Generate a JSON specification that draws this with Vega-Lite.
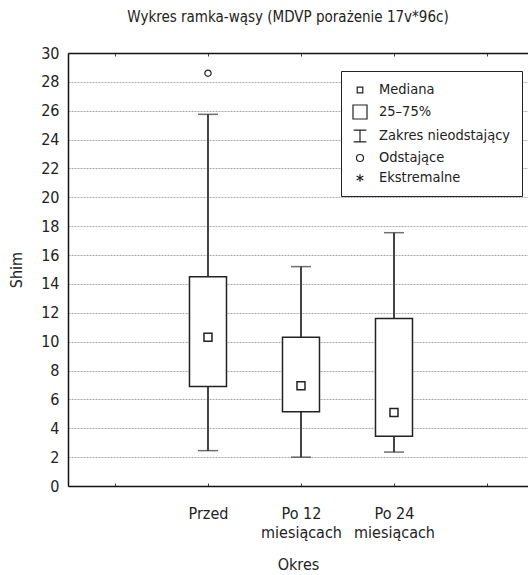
{
  "$schema": "https://vega.github.io/schema/vega-lite/v6.json",
  "width": 460,
  "height": 433,
  "autosize": {"type": "none"},
  "padding": {"left": 68, "top": 53, "right": 0, "bottom": 89},
  "config": {
    "font": "DejaVu Sans Condensed, Roboto, sans-serif",
    "view": {"stroke": null},
    "axis": {"labelFontSize": 16, "titleFontSize": 16, "titleFontWeight": "normal", "labelFontWeight": "normal", "labelColor": "#222", "titleColor": "#222", "domain": true, "domainColor": "#111", "domainWidth": 1.5, "tickColor": "#444", "grid": false, "labelOverlap": false},
    "axisY": {"grid": true, "gridDash": [2, 1], "gridColor": "#aaa", "ticks": false, "labelPadding": 9, "titlePadding": 16},
    "axisX": {"labelAngle": 0}
  },
  "title": {"text": "Wykres ramka-wąsy (MDVP porażenie 17v*96c)", "fontSize": 15, "fontWeight": "normal", "color": "#222", "dx": -10, "offset": 20},
  "datasets": {
    "boxes": [
      {"okres": "Przed", "min": 2.45, "q1": 6.9, "median": 10.3, "q3": 14.5, "max": 25.75},
      {"okres": "Po 12 miesiącach", "min": 2.0, "q1": 5.15, "median": 6.95, "q3": 10.3, "max": 15.2},
      {"okres": "Po 24 miesiącach", "min": 2.35, "q1": 3.45, "median": 5.1, "q3": 11.6, "max": 17.55}
    ],
    "outliers": [{"okres": "Przed", "value": 28.6}],
    "legendItems": [
      {"item": "Mediana"}, {"item": "25–75%"}, {"item": "Zakres nieodstający"}, {"item": "Odstające"}, {"item": "Ekstremalne"}
    ]
  },
  "layer": [
    {
      "data": {"name": "boxes"},
      "mark": {"type": "rule", "color": "#444", "strokeWidth": 2},
      "encoding": {
        "x": {
          "field": "okres", "type": "nominal",
          "scale": {"type": "point", "domain": ["_a", "Przed", "Po 12 miesiącach", "Po 24 miesiącach", "_b"], "padding": 0.473, "align": 0.534},
          "axis": {"orient": "bottom", "title": "Okres", "tickSize": -3, "labelPadding": 22, "titlePadding": 16, "labelLineHeight": 19, "labelBaseline": "top",
            "labelExpr": "datum.value == '_a' || datum.value == '_b' ? '' : (indexof(datum.value, ' mies') > 0 ? [slice(datum.value, 0, indexof(datum.value, ' mies')), 'miesiącach'] : datum.value)"}
        },
        "y": {"field": "min", "type": "quantitative", "title": "Shim", "scale": {"domain": [0, 30], "nice": false}, "axis": {"values": [0, 2, 4, 6, 8, 10, 12, 14, 16, 18, 20, 22, 24, 26, 28, 30]}},
        "y2": {"field": "max"}
      }
    },
    {
      "data": {"name": "boxes"},
      "mark": {"type": "bar", "width": 37, "fill": "white", "stroke": "#222", "strokeWidth": 1.5},
      "encoding": {
        "x": {"field": "okres", "type": "nominal", "axis": null},
        "y": {"field": "q1", "type": "quantitative", "title": "Shim", "axis": {"values": [0, 2, 4, 6, 8, 10, 12, 14, 16, 18, 20, 22, 24, 26, 28, 30]}},
        "y2": {"field": "q3"}
      }
    },
    {
      "data": {"name": "boxes"},
      "mark": {"type": "tick", "color": "#333", "size": 20, "thickness": 1.5},
      "encoding": {
        "x": {"field": "okres", "type": "nominal", "axis": null},
        "y": {"field": "min", "type": "quantitative", "title": "Shim", "axis": {"values": [0, 2, 4, 6, 8, 10, 12, 14, 16, 18, 20, 22, 24, 26, 28, 30]}}
      }
    },
    {
      "data": {"name": "boxes"},
      "mark": {"type": "tick", "color": "#333", "size": 20, "thickness": 1.5},
      "encoding": {
        "x": {"field": "okres", "type": "nominal", "axis": null},
        "y": {"field": "max", "type": "quantitative", "title": "Shim", "axis": {"values": [0, 2, 4, 6, 8, 10, 12, 14, 16, 18, 20, 22, 24, 26, 28, 30]}}
      }
    },
    {
      "data": {"name": "boxes"},
      "mark": {"type": "point", "shape": "square", "size": 64, "filled": true, "fill": "white", "stroke": "#222", "strokeWidth": 1.5, "opacity": 1},
      "encoding": {
        "x": {"field": "okres", "type": "nominal", "axis": null},
        "y": {"field": "median", "type": "quantitative", "title": "Shim", "axis": {"values": [0, 2, 4, 6, 8, 10, 12, 14, 16, 18, 20, 22, 24, 26, 28, 30]}}
      }
    },
    {
      "data": {"name": "outliers"},
      "mark": {"type": "point", "shape": "circle", "size": 40, "filled": false, "stroke": "#222", "strokeWidth": 1.2, "opacity": 1},
      "encoding": {
        "x": {"field": "okres", "type": "nominal", "axis": null},
        "y": {"field": "value", "type": "quantitative", "title": "Shim", "axis": {"values": [0, 2, 4, 6, 8, 10, 12, 14, 16, 18, 20, 22, 24, 26, 28, 30]}}
      }
    },
    {
      "data": {"name": "legendItems"},
      "transform": [{"filter": "false"}],
      "mark": {"type": "point", "filled": false, "stroke": "#222", "opacity": 1},
      "encoding": {
        "x": {
          "field": "okres", "type": "nominal",
          "axis": {"orient": "top", "title": null, "labels": false, "tickSize": -3}
        },
        "shape": {
          "field": "item", "type": "nominal",
          "scale": {
            "domain": ["Mediana", "25–75%", "Zakres nieodstający", "Odstające", "Ekstremalne"],
            "range": [
              "M-0.4,-0.4H0.4V0.4H-0.4Z",
              "M-1,-1H1V1H-1Z",
              "M-0.9,-0.85H0.9M0,-0.85V0.85M-0.9,0.85H0.9",
              "M0.5,0A0.5,0.5 0 1,1 -0.5,0A0.5,0.5 0 1,1 0.5,0Z",
              "M0,-0.55V0.55M-0.48,-0.28L0.48,0.28M-0.48,0.28L0.48,-0.28"
            ]
          },
          "legend": {
            "orient": "none", "legendX": 273, "legendY": 18, "title": null,
            "strokeColor": "#222", "fillColor": "white", "padding": 11,
            "symbolSize": 196, "symbolStrokeColor": "#222", "symbolFillColor": "white", "symbolStrokeWidth": 1.2,
            "labelFontSize": 14.5, "labelColor": "#222", "labelOffset": 11, "rowPadding": 5
          }
        }
      }
    }
  ]
}
